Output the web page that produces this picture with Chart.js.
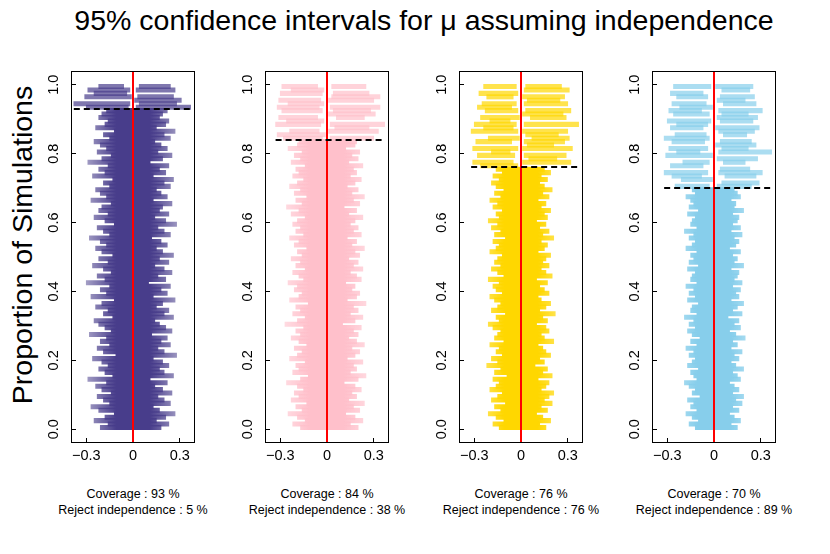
<!DOCTYPE html>
<html>
<head>
<meta charset="utf-8">
<script src="https://cdn.jsdelivr.net/npm/chart.js@4/dist/chart.umd.min.js"></script>
<style>
html,body{margin:0;padding:0;background:#fff;}
#wrap{position:relative;width:830px;height:554px;overflow:hidden;font-family:"Liberation Sans",Arial,Helvetica,sans-serif;color:#000;}
.panel{position:absolute;top:61px;}
#title{position:absolute;left:0;width:848px;top:3px;text-align:center;font-size:28.5px;line-height:34px;white-space:nowrap;}
#ylab{position:absolute;left:-178px;top:228px;width:400px;height:34px;line-height:34px;text-align:center;font-size:28.5px;white-space:nowrap;transform:rotate(-90deg);transform-origin:50% 50%;}
.note{position:absolute;top:486px;width:220px;text-align:center;font-size:12.5px;line-height:16px;white-space:nowrap;}
</style>
</head>
<body>
<div id="wrap">
  <div id="title">95% confidence intervals for μ assuming independence</div>
  <div id="ylab">Proportion of Simulations</div>
</div>
<script>
// ---------------- data ----------------
const coveragePct = [93, 84, 76, 70];
const rejectIndependencePct = [5, 38, 76, 89];
const seriesColors = ['#483D8B', '#FFC0CB', '#FFD700', '#87CEEB'];
const trueMean = 0;
const yTickValues = [0, 0.2, 0.4, 0.6, 0.8, 1.0];
const xTickValues = [-0.3, 0, 0.3];
const xRange = [-0.398, 0.398];
const yRange = [-0.04, 1.04];

// Panel 1 : intervals that cover 0 (bottom, 93%)
const cover1Lo = [-0.21,-0.16,-0.25,-0.18,-0.12,-0.22,-0.27,-0.15,-0.19,-0.23,
-0.14,-0.20,-0.24,-0.17,-0.29,-0.13,-0.18,-0.22,-0.16,-0.20,
-0.26,-0.11,-0.19,-0.23,-0.15,-0.21,-0.17,-0.28,-0.14,-0.18,
-0.22,-0.25,-0.13,-0.19,-0.16,-0.24,-0.20,-0.12,-0.27,-0.17,
-0.21,-0.15,-0.30,-0.18,-0.23,-0.14,-0.19,-0.26,-0.16,-0.22,
-0.13,-0.20,-0.24,-0.17,-0.21,-0.28,-0.15,-0.19,-0.23,-0.12,
-0.18,-0.25,-0.16,-0.22,-0.20,-0.14,-0.27,-0.17,-0.21,-0.24,
-0.15,-0.19,-0.13,-0.26,-0.18,-0.22,-0.16,-0.29,-0.20,-0.14,
-0.23,-0.17,-0.21,-0.25,-0.15,-0.19,-0.12,-0.24,-0.18,-0.16,
-0.22,-0.20,-0.17];
const cover1Hi = [0.18,0.23,0.15,0.21,0.27,0.17,0.13,0.24,0.20,0.16,
0.25,0.19,0.14,0.22,0.11,0.26,0.20,0.17,0.23,0.19,
0.13,0.28,0.20,0.16,0.24,0.18,0.22,0.12,0.25,0.21,
0.17,0.14,0.26,0.20,0.23,0.15,0.19,0.27,0.13,0.22,
0.18,0.24,0.10,0.21,0.16,0.25,0.20,0.14,0.23,0.17,
0.26,0.19,0.15,0.22,0.18,0.12,0.24,0.20,0.16,0.28,
0.21,0.14,0.23,0.17,0.19,0.25,0.13,0.22,0.18,0.15,
0.24,0.20,0.26,0.13,0.21,0.17,0.23,0.11,0.19,0.25,
0.16,0.22,0.18,0.14,0.24,0.20,0.27,0.15,0.21,0.23,
0.17,0.19,0.22];
// Panel 1 : intervals missing 0 (top rows; null = no interval on that side)
const missLeft1Lo  = [-0.30,-0.38,null,-0.31,-0.25,-0.29,-0.22];
const missLeft1Hi  = [-0.03,-0.02,null,-0.01,-0.04,-0.02,-0.06];
const missRight1Lo = [0.02,0.04,0.01,0.03,null,0.02,0.04];
const missRight1Hi = [0.37,0.28,0.31,0.26,null,0.27,0.24];

// Panel 2
const cover2Lo = [-0.17,-0.22,-0.14,-0.19,-0.25,-0.16,-0.20,-0.13,-0.23,-0.18,
-0.21,-0.15,-0.19,-0.26,-0.17,-0.12,-0.22,-0.18,-0.20,-0.14,
-0.24,-0.19,-0.16,-0.21,-0.13,-0.18,-0.23,-0.17,-0.20,-0.15,
-0.27,-0.19,-0.14,-0.22,-0.17,-0.20,-0.12,-0.24,-0.18,-0.16,
-0.21,-0.19,-0.25,-0.15,-0.18,-0.22,-0.14,-0.20,-0.17,-0.23,
-0.16,-0.19,-0.13,-0.21,-0.18,-0.24,-0.15,-0.20,-0.17,-0.22,
-0.19,-0.14,-0.23,-0.18,-0.26,-0.16,-0.20,-0.13,-0.21,-0.17,
-0.24,-0.19,-0.15,-0.22,-0.18,-0.20,-0.14,-0.23,-0.17,-0.21,
-0.16,-0.25,-0.19,-0.18];
const cover2Hi = [0.20,0.15,0.23,0.18,0.12,0.21,0.17,0.24,0.14,0.19,
0.16,0.22,0.18,0.11,0.20,0.25,0.15,0.19,0.17,0.23,
0.13,0.18,0.21,0.16,0.24,0.19,0.14,0.20,0.17,0.22,
0.10,0.18,0.23,0.15,0.20,0.17,0.25,0.13,0.19,0.21,
0.16,0.18,0.12,0.22,0.19,0.15,0.23,0.17,0.20,0.14,
0.21,0.18,0.24,0.16,0.19,0.13,0.22,0.17,0.20,0.15,
0.18,0.23,0.14,0.19,0.11,0.21,0.17,0.24,0.16,0.20,
0.13,0.18,0.22,0.15,0.19,0.17,0.23,0.14,0.20,0.16,
0.21,0.12,0.18,0.19];
const missLeft2Lo  = [-0.28,-0.32,-0.24,null,-0.33,-0.26,-0.31,null,-0.29,-0.32,-0.25,-0.31,null,-0.30,-0.23,-0.29];
const missLeft2Hi  = [-0.03,-0.01,-0.05,null,-0.04,-0.02,-0.06,null,-0.03,-0.05,-0.02,-0.04,null,-0.03,-0.02,-0.06];
const missRight2Lo = [0.02,null,0.01,0.05,0.02,null,0.06,0.01,0.04,0.02,null,0.01,0.03,0.04,null,0.03];
const missRight2Hi = [0.30,null,0.33,0.27,0.37,null,0.24,0.31,0.28,0.34,null,0.30,0.34,0.27,null,0.25];

// Panel 3
const cover3Lo = [-0.14,-0.18,-0.11,-0.16,-0.21,-0.13,-0.17,-0.10,-0.19,-0.15,
-0.12,-0.20,-0.16,-0.14,-0.18,-0.09,-0.17,-0.13,-0.22,-0.15,
-0.19,-0.12,-0.16,-0.14,-0.20,-0.11,-0.17,-0.15,-0.13,-0.18,
-0.21,-0.14,-0.16,-0.10,-0.19,-0.15,-0.13,-0.17,-0.20,-0.12,
-0.16,-0.18,-0.14,-0.21,-0.11,-0.15,-0.19,-0.13,-0.17,-0.15,
-0.12,-0.20,-0.16,-0.14,-0.18,-0.10,-0.17,-0.13,-0.19,-0.15,
-0.21,-0.14,-0.16,-0.12,-0.18,-0.15,-0.20,-0.13,-0.17,-0.11,
-0.16,-0.19,-0.14,-0.18,-0.12,-0.16];
const cover3Hi = [0.16,0.12,0.19,0.14,0.10,0.17,0.13,0.20,0.15,0.18,
0.21,0.13,0.16,0.18,0.11,0.20,0.14,0.17,0.09,0.15,
0.12,0.19,0.16,0.14,0.11,0.21,0.15,0.13,0.18,0.16,
0.10,0.17,0.14,0.22,0.12,0.16,0.19,0.13,0.11,0.18,
0.15,0.12,0.17,0.10,0.20,0.16,0.13,0.18,0.14,0.16,
0.19,0.11,0.15,0.17,0.13,0.21,0.14,0.18,0.12,0.16,
0.10,0.17,0.15,0.19,0.13,0.16,0.11,0.18,0.14,0.20,
0.15,0.12,0.17,0.13,0.19,0.15];
const missLeft3Lo  = [-0.26,-0.31,null,-0.28,-0.19,-0.31,null,-0.29,-0.21,null,-0.32,-0.24,-0.30,-0.20,-0.26,null,-0.23,-0.28,-0.25,null,-0.22,-0.27,null,-0.24];
const missLeft3Hi  = [-0.02,-0.05,null,-0.04,-0.07,-0.02,null,-0.06,-0.01,null,-0.02,-0.05,-0.03,-0.07,-0.01,null,-0.02,-0.06,-0.03,null,-0.05,-0.02,null,-0.03];
const missRight3Lo = [null,0.01,0.05,0.02,null,0.01,0.04,0.02,0.07,0.03,0.01,null,0.02,null,0.06,0.01,0.03,null,0.02,0.04,0.01,null,0.02,0.03];
const missRight3Hi = [null,0.32,0.23,0.29,null,0.33,0.21,0.28,0.31,0.24,0.30,null,0.37,null,0.29,0.27,0.32,null,0.30,0.25,0.28,null,0.31,0.26];

// Panel 4
const cover4Lo = [-0.12,-0.16,-0.10,-0.14,-0.18,-0.11,-0.15,-0.13,-0.17,-0.09,
-0.14,-0.12,-0.16,-0.19,-0.11,-0.13,-0.15,-0.10,-0.17,-0.14,
-0.12,-0.16,-0.13,-0.18,-0.11,-0.15,-0.09,-0.14,-0.17,-0.12,
-0.16,-0.13,-0.19,-0.11,-0.15,-0.14,-0.10,-0.17,-0.12,-0.16,
-0.13,-0.18,-0.11,-0.15,-0.14,-0.12,-0.17,-0.10,-0.16,-0.13,
-0.15,-0.11,-0.18,-0.14,-0.12,-0.16,-0.13,-0.19,-0.11,-0.15,
-0.14,-0.12,-0.17,-0.10,-0.16,-0.13,-0.15,-0.18,-0.12,-0.14];
const cover4Hi = [0.15,0.11,0.17,0.13,0.10,0.16,0.12,0.18,0.14,0.19,
0.12,0.16,0.13,0.10,0.17,0.15,0.12,0.19,0.14,0.11,
0.16,0.13,0.18,0.11,0.15,0.12,0.20,0.14,0.10,0.17,
0.13,0.16,0.09,0.18,0.12,0.15,0.19,0.11,0.16,0.14,
0.17,0.12,0.18,0.13,0.15,0.16,0.11,0.19,0.13,0.15,
0.12,0.17,0.10,0.14,0.16,0.13,0.18,0.11,0.17,0.12,
0.15,0.16,0.12,0.19,0.13,0.14,0.11,0.17,0.15,0.13];
const missLeft4Lo  = [-0.25,null,-0.21,-0.27,-0.32,null,-0.28,-0.20,null,-0.31,-0.24,-0.29,null,-0.27,-0.32,-0.25,null,-0.28,-0.24,-0.30,null,-0.26,-0.29,-0.22,-0.27,null,-0.24,-0.28,null,-0.26];
const missLeft4Hi  = [-0.03,null,-0.01,-0.08,-0.04,null,-0.07,-0.03,null,-0.01,-0.09,-0.04,null,-0.06,-0.03,-0.05,null,-0.07,-0.04,-0.02,null,-0.03,-0.08,-0.01,-0.05,null,-0.04,-0.07,null,-0.02];
const missRight4Lo = [0.02,0.05,null,0.07,0.03,0.04,null,0.06,0.02,null,0.03,0.05,0.01,0.04,null,0.06,0.03,0.01,null,0.04,0.02,0.05,0.03,null,0.06,0.02,0.04,null,0.05,0.01];
const missRight4Hi = [0.24,0.29,null,0.27,0.31,0.23,null,0.20,0.28,null,0.37,0.22,0.27,0.24,null,0.21,0.26,0.29,null,0.25,0.28,0.22,0.31,null,0.27,0.20,0.26,null,0.23,0.25];

const coverLo = [cover1Lo, cover2Lo, cover3Lo, cover4Lo];
const coverHi = [cover1Hi, cover2Hi, cover3Hi, cover4Hi];
const missLeftLo = [missLeft1Lo, missLeft2Lo, missLeft3Lo, missLeft4Lo];
const missLeftHi = [missLeft1Hi, missLeft2Hi, missLeft3Hi, missLeft4Hi];
const missRightLo = [missRight1Lo, missRight2Lo, missRight3Lo, missRight4Lo];
const missRightHi = [missRight1Hi, missRight2Hi, missRight3Hi, missRight4Hi];

// ---------------- drawing ----------------
const panelLeft = [71, 265, 459, 652];
const FONT = '"Liberation Sans", Arial, Helvetica, sans-serif';
Chart.defaults.font.family = FONT;
Chart.defaults.color = '#000';

function rgba(hex, a) {
  const n = parseInt(hex.slice(1), 16);
  return `rgba(${(n >> 16) & 255},${(n >> 8) & 255},${n & 255},${a})`;
}

// density shading: dense core near the centre, sparse (lighter) tails
function densityFill(hex, edgeAlpha) {
  return (c) => {
    const chart = c.chart;
    if (!chart.chartArea || !chart.scales.x) return rgba(hex, 0.8);
    const x = chart.scales.x;
    const x0 = x.getPixelForValue(-0.3), x1 = x.getPixelForValue(0.3);
    const g = chart.ctx.createLinearGradient(x0, 0, x1, 0);
    g.addColorStop(0, rgba(hex, edgeAlpha));
    g.addColorStop(0.32, rgba(hex, 1));
    g.addColorStop(0.68, rgba(hex, 1));
    g.addColorStop(1, rgba(hex, edgeAlpha));
    return g;
  };
}

const decorPlugin = {
  id: 'decor',
  afterDatasetsDraw(chart, args, opts) {
    const {ctx, chartArea: a, scales: {x, y}} = chart;
    ctx.save();
    const px = x.getPixelForValue(opts.mean);
    ctx.strokeStyle = '#FF0000';
    ctx.lineWidth = 2;
    ctx.beginPath(); ctx.moveTo(px, a.top); ctx.lineTo(px, a.bottom); ctx.stroke();
    const py = Math.round(y.getPixelForValue(opts.coverage));
    ctx.strokeStyle = '#000';
    ctx.lineWidth = 2;
    ctx.setLineDash([6, 4]);
    ctx.beginPath();
    ctx.moveTo(x.getPixelForValue(opts.from), py);
    ctx.lineTo(x.getPixelForValue(opts.to), py);
    ctx.stroke();
    ctx.setLineDash([]);
    ctx.lineWidth = 1;
    ctx.strokeStyle = '#000';
    ctx.strokeRect(a.left + 0.5, a.top + 0.5, a.right - a.left - 1, a.bottom - a.top - 1);
    ctx.restore();
  }
};

const wrap = document.getElementById('wrap');

function rows(loArr, hiArr, startRow, N) {
  return loArr.map((lo, k) => ({y: (startRow + k + 0.5) / N, x: [lo, hiArr[k]]}))
              .filter(d => d.x[0] !== null && d.x[1] !== null);
}

for (let i = 0; i < 4; i++) {
  const nCover = coverLo[i].length;
  const N = nCover + missLeftLo[i].length;
  const coverData = rows(coverLo[i], coverHi[i], 0, N);
  const leftData = rows(missLeftLo[i], missLeftHi[i], nCover, N);
  const rightData = rows(missRightLo[i], missRightHi[i], nCover, N);
  const allLo = [].concat(coverLo[i], missLeftLo[i], missRightLo[i]).filter(v => v !== null);
  const allHi = [].concat(coverHi[i], missLeftHi[i], missRightHi[i]).filter(v => v !== null);

  const canvas = document.createElement('canvas');
  canvas.className = 'panel';
  canvas.width = 180; canvas.height = 410;
  canvas.style.left = (panelLeft[i] - 45) + 'px';
  wrap.appendChild(canvas);

  const base = {borderWidth: 0, borderSkipped: false, barThickness: 4.4, grouped: false};
  const missCol = rgba(seriesColors[i], 0.7);

  new Chart(canvas, {
    type: 'bar',
    data: {
      datasets: [
        Object.assign({label: 'cover', data: coverData, backgroundColor: densityFill(seriesColors[i], 0.5)}, base),
        Object.assign({label: 'miss left', data: leftData, backgroundColor: missCol}, base),
        Object.assign({label: 'miss right', data: rightData, backgroundColor: missCol}, base)
      ]
    },
    options: {
      indexAxis: 'y',
      responsive: false,
      animation: false,
      events: [],
      layout: {padding: {left: 0, right: 11, top: 10, bottom: 0}},
      plugins: {
        legend: {display: false},
        tooltip: {enabled: false},
        decor: {mean: trueMean, coverage: coveragePct[i] / 100, from: Math.min(...allLo), to: Math.max(...allHi)}
      },
      scales: {
        x: {
          type: 'linear', position: 'bottom', min: xRange[0], max: xRange[1],
          afterBuildTicks: s => { s.ticks = xTickValues.map(v => ({value: v})); },
          afterFit: s => { s.height = 28; s.paddingLeft = 0; s.paddingRight = 0; },
          ticks: {
            font: {size: 14.5}, color: '#000', padding: 9, maxRotation: 0, autoSkip: false,
            callback: v => (v < 0 ? '\u2212' + Math.abs(v) : String(v))
          },
          grid: {drawOnChartArea: false, tickLength: -5, color: '#000', tickColor: '#000', lineWidth: 1},
          border: {display: false}
        },
        y: {
          type: 'linear', position: 'left', min: yRange[0], max: yRange[1], offset: false,
          afterBuildTicks: s => { s.ticks = yTickValues.map(v => ({value: v})); },
          afterFit: s => { s.width = 45; s.paddingTop = 0; s.paddingBottom = 0; },
          ticks: {
            font: {size: 14.5}, color: '#000', padding: 12, minRotation: 90, maxRotation: 90,
            crossAlign: 'center', autoSkip: false,
            callback: v => v.toFixed(1)
          },
          grid: {drawOnChartArea: false, tickLength: -5, color: '#000', tickColor: '#000', lineWidth: 1, offset: false},
          border: {display: false}
        }
      }
    },
    plugins: [decorPlugin]
  });

  const note = document.createElement('div');
  note.className = 'note';
  note.style.left = (panelLeft[i] + 62 - 110) + 'px';
  note.innerHTML = 'Coverage : ' + coveragePct[i] + ' %<br>Reject independence : ' + rejectIndependencePct[i] + ' %';
  wrap.appendChild(note);
}
</script>
</body>
</html>
